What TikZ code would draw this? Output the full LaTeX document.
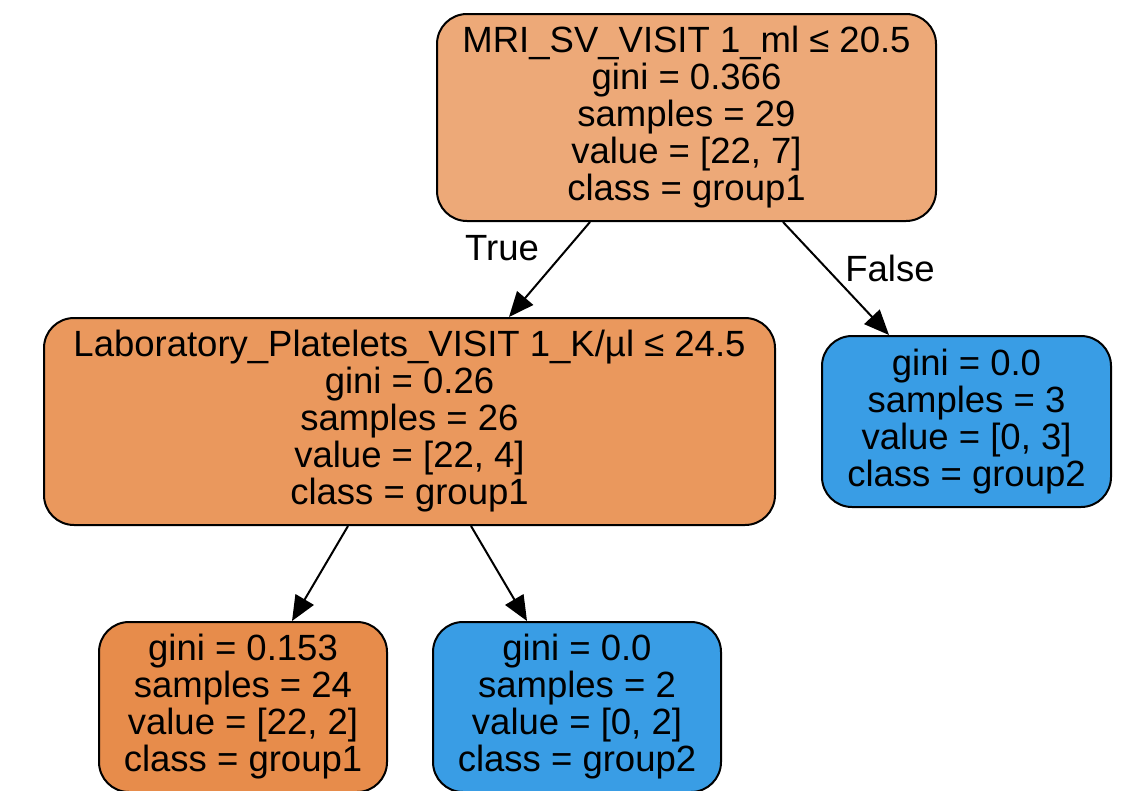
\documentclass[tikz,border=0pt]{standalone}
\usepackage{fontspec}
\setmainfont{Liberation Sans}
\usetikzlibrary{arrows.meta}
\definecolor{rootc}{HTML}{EDA978}
\definecolor{labc}{HTML}{EA985D}
\definecolor{leafo}{HTML}{E78C4B}
\definecolor{leafb}{HTML}{399DE5}
\tikzset{
  treenode/.style={draw=black, line width=2pt, rounded corners=30pt, align=center,
    inner sep=0pt, font=\fontsize{36.5}{37}\selectfont,
    execute at begin node={\rule{0pt}{40pt}}},
  edge/.style={line width=2pt, -{Triangle[length=25pt,width=21pt]}},
  elabel/.style={font=\fontsize{36.5}{37}\selectfont, inner sep=0pt}
}
\begin{document}
\begin{tikzpicture}[x=1pt,y=-1pt]
\useasboundingbox (0,0) rectangle (1129,790);
\node[treenode, fill=rootc, minimum width=499pt, minimum height=207pt] (root) at (686.5,117.5)
  {MRI\_SV\_VISIT 1\_ml ≤ 20.5\\gini = 0.366\\samples = 29\\value = [22, 7]\\class = group1};
\node[treenode, fill=labc, minimum width=731pt, minimum height=207pt] (lab) at (409.5,421.5)
  {Laboratory\_Platelets\_VISIT 1\_K/µl ≤ 24.5\\gini = 0.26\\samples = 26\\value = [22, 4]\\class = group1};
\node[treenode, fill=leafb, minimum width=289pt, minimum height=171pt] (r) at (966.5,421.5)
  {gini = 0.0\\samples = 3\\value = [0, 3]\\class = group2};
\node[treenode, fill=leafo, minimum width=288pt, minimum height=170pt] (ll) at (243,707)
  {gini = 0.153\\samples = 24\\value = [22, 2]\\class = group1};
\node[treenode, fill=leafb, minimum width=288pt, minimum height=170pt] (lr) at (577,707)
  {gini = 0.0\\samples = 2\\value = [0, 2]\\class = group2};
\coordinate (a1) at (590,222);
\coordinate (a2) at (783,222);
\coordinate (b1) at (348,526);
\coordinate (b2) at (471,526);
\draw[edge] (a1) -- (lab.north -| 509,0);
\draw[edge] (a2) -- (r.north -| 889,0);
\draw[edge] (b1) -- (ll.north -| 292,0);
\draw[edge] (b2) -- (lr.north -| 527,0);
\node[elabel] (t) at (502,248) {True};
\node[elabel] (f) at (890,268) {False};
\end{tikzpicture}
\end{document}
